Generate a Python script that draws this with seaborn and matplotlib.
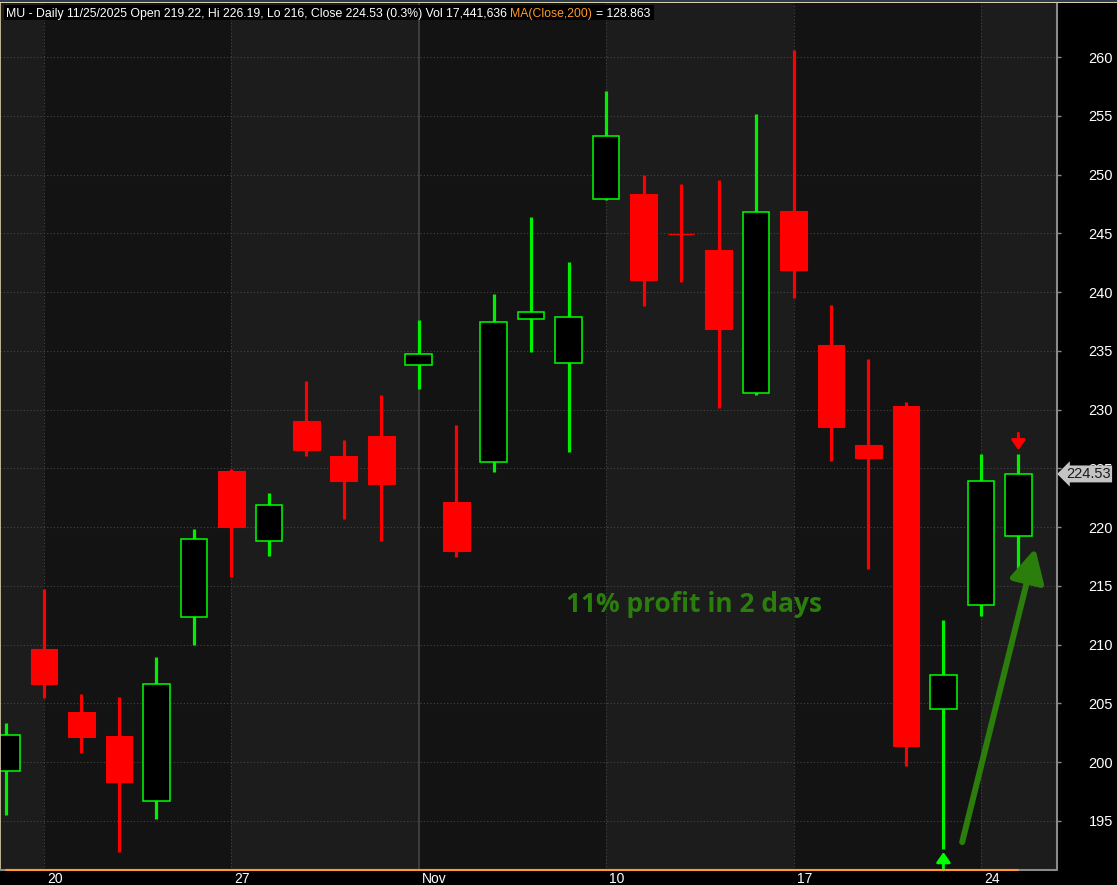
import numpy as np
import pandas as pd
import seaborn as sns
import matplotlib.pyplot as plt
from matplotlib import transforms
from matplotlib.patches import Rectangle

# daily bars, Oct 17 -> Nov 25 2025
dates = ["Oct 17", "Oct 20", "Oct 21", "Oct 22", "Oct 23", "Oct 24",
         "Oct 27", "Oct 28", "Oct 29", "Oct 30", "Oct 31",
         "Nov 3", "Nov 4", "Nov 5", "Nov 6", "Nov 7",
         "Nov 10", "Nov 11", "Nov 12", "Nov 13", "Nov 14",
         "Nov 17", "Nov 18", "Nov 19", "Nov 20", "Nov 21",
         "Nov 24", "Nov 25"]
opens = [199.23, 209.63, 204.28, 202.23, 196.68, 212.33,
         224.78, 218.85, 229.03, 226.05, 227.76,
         233.82, 222.14, 225.57, 237.74, 233.99,
         247.89, 248.34, 244.96, 243.58, 231.39,
         246.90, 235.53, 226.95, 230.28, 204.53,
         213.40, 219.22]
highs = [203.34, 214.74, 205.81, 205.55, 208.95, 219.84,
         224.95, 222.91, 232.44, 227.42, 231.24,
         237.62, 228.69, 239.84, 246.39, 242.56,
         257.11, 249.96, 249.20, 249.54, 255.15,
         260.60, 238.93, 234.34, 230.63, 212.08,
         226.20, 226.19]
lows = [195.51, 205.49, 200.81, 192.39, 195.20, 210.00,
        215.76, 217.55, 226.05, 220.69, 218.82,
        231.75, 217.46, 224.72, 234.93, 226.42,
        247.80, 238.84, 240.88, 230.16, 231.27,
        239.52, 225.63, 216.42, 199.65, 192.64,
        212.45, 216.00]
closes = [202.29, 206.68, 202.17, 198.34, 206.63, 219.00,
          220.01, 221.86, 226.56, 223.93, 223.67,
          234.71, 217.97, 237.43, 238.28, 237.85,
          253.25, 241.05, 244.92, 236.86, 246.79,
          241.90, 228.52, 225.85, 201.38, 207.39,
          223.96, 224.53]

week_starts = [1, 6, 11, 16, 21, 26]
week_labels = ["20", "27", "Nov", "10", "17", "24"]
price_ticks = list(range(195, 261, 5))
last_close = 224.53

title_parts = [("MU - Daily 11/25/2025 Open 219.22, Hi 226.19, Lo 216, Close 224.53 (0.3%) Vol 17,441,636", "white"),
               ("MA(Close,200)", "#ff9b2a"),
               ("= 128.863", "white")]

df = pd.DataFrame({"date": dates, "open": opens, "high": highs, "low": lows, "close": closes})
df["x"] = np.arange(len(df))
df["up"] = df["close"] >= df["open"]

sns.set_style("dark")
plt.rcParams["font.family"] = ["Liberation Sans", "DejaVu Sans"]

W, H = 1117, 885
fig = plt.figure(figsize=(W / 100, H / 100), dpi=100, facecolor="black")
ax = fig.add_axes([0, 15 / H, 1057 / W, 867 / H])
ax.set_facecolor("#131313")
x0, x1 = -0.173, 28.03
ax.set_xlim(x0, x1)
ax.set_ylim(190.83, 264.6)

# alternating week bands
light = "#1c1c1c"
ax.axvspan(x0, 1, color=light, zorder=0, lw=0)
ax.axvspan(6, 11, color=light, zorder=0, lw=0)
ax.axvspan(16, 21, color=light, zorder=0, lw=0)
ax.axvspan(26, x1, color=light, zorder=0, lw=0)

# grid
for p in price_ticks:
    ax.axhline(p, color="#454545", lw=0.8, ls=(0, (1, 2)), zorder=1)
for w in week_starts:
    if w == 11:
        ax.axvline(w, color="#444444", lw=1.2, zorder=1)
    else:
        ax.axvline(w, color="#454545", lw=0.8, ls=(0, (1, 2)), zorder=1)

# candles
green, red = "#00f000", "#ff0000"
cols = np.where(df["up"], green, red)
ax.vlines(df["x"], df["low"], df["high"], colors=cols, lw=2.3, zorder=2)
up = df[df["up"]]
dn = df[~df["up"]]
ax.bar(up["x"], up["close"] - up["open"], bottom=up["open"], width=0.71,
       color="black", edgecolor="#00ff00", lw=1.1, zorder=3)
ax.bar(dn["x"], dn["open"] - dn["close"], bottom=dn["close"], width=0.71,
       color=red, edgecolor=red, lw=0.8, zorder=3)

# signal arrows
ax.annotate("", xy=(27, 226.55), xytext=(27, 228.0),
            arrowprops=dict(arrowstyle="-|>,head_length=0.5,head_width=0.35", color=red, lw=2,
                            mutation_scale=12, shrinkA=0, shrinkB=0), zorder=4)
ax.annotate("", xy=(25, 192.35), xytext=(25, 190.83),
            arrowprops=dict(arrowstyle="-|>,head_length=0.5,head_width=0.35", color="#00ff00", lw=2,
                            mutation_scale=12, shrinkA=0, shrinkB=0), zorder=4, annotation_clip=False)

# annotation
ag = "#2b7d0c"
ax.text(14.93, 213.4, "11% profit in 2 days", color=ag, fontsize=19, fontweight="bold",
        family=["Open Sans", "DejaVu Sans"], ha="left", va="center", zorder=5)
ax.annotate("", xy=(27.45, 218.2), xytext=(25.5, 193.2),
            arrowprops=dict(arrowstyle="-|>,head_length=0.8,head_width=0.42", color=ag, lw=4.3,
                            mutation_scale=25, shrinkA=0, shrinkB=0), zorder=5)

# y axis on the right
ax.yaxis.tick_right()
ax.set_yticks(price_ticks)
ax.tick_params(axis="y", colors="#8a8a8a", labelcolor="white", length=3, width=1,
               direction="out", labelsize=10.5, pad=37.3)
for lab in ax.get_yticklabels():
    lab.set_ha("right")

# x axis: week ticks with labels to the right
ax.set_xticks(week_starts)
ax.set_xticklabels([])
ax.tick_params(axis="x", colors="#8a8a8a", length=4, width=1, direction="out")
lab_tr = transforms.blended_transform_factory(ax.transData, ax.transAxes) + \
    transforms.ScaledTranslation(0.03, -0.02, fig.dpi_scale_trans)
for w, s in zip(week_starts, week_labels):
    ax.text(w, 0, s, transform=lab_tr, color="white", fontsize=10, ha="left", va="top")

for side in ["top", "left", "right", "bottom"]:
    ax.spines[side].set_visible(False)
ax.axvline(x1, color="#8a8a8a", lw=1.5, zorder=6, clip_on=False)
ax.axvline(x0, color="#d9d0a8", lw=1.2, zorder=6, clip_on=False)
ax.plot([x0, x1], [190.83, 190.83], color="#8a8a8a", lw=1.5, clip_on=False, zorder=6)
ax.plot([0, 27], [190.83, 190.83], color="#ff9933", lw=1.5, clip_on=False, zorder=7)

# last price tag
tag_tr = transforms.blended_transform_factory(ax.transAxes, ax.transData)
ax.text(1.0 + 9 / 1057, last_close, f"{last_close:.2f}", transform=tag_tr, color="#1a1a1a",
        fontsize=10.5, ha="left", va="center", zorder=8,
        bbox=dict(boxstyle="larrow,pad=0.1", fc="#c4c4c4", ec="none"))

# top border
fig.add_artist(Rectangle((0, 1 - 2 / H), 1, 2 / H, transform=fig.transFigure,
                         color="#2e3c50", lw=0, zorder=9))
fig.add_artist(Rectangle((0, 1 - 3 / H), 1, 1 / H, transform=fig.transFigure,
                         color="#d9d0a8", lw=0, zorder=9))

# title bar with coloured pieces
fig.canvas.draw()
r = fig.canvas.get_renderer()
xp = 6
for s, c in title_parts:
    t = fig.text(xp / W, 1 - 17 / H, s, color=c, fontsize=8.8, va="baseline", zorder=11)
    xp = t.get_window_extent(r).x1 + 3.5
fig.add_artist(Rectangle((4 / W, 1 - 20 / H), (xp - 4) / W, 15 / H, transform=fig.transFigure,
                         color="black", lw=0, zorder=10))

fig.savefig("out.png", dpi=100, facecolor="black")
